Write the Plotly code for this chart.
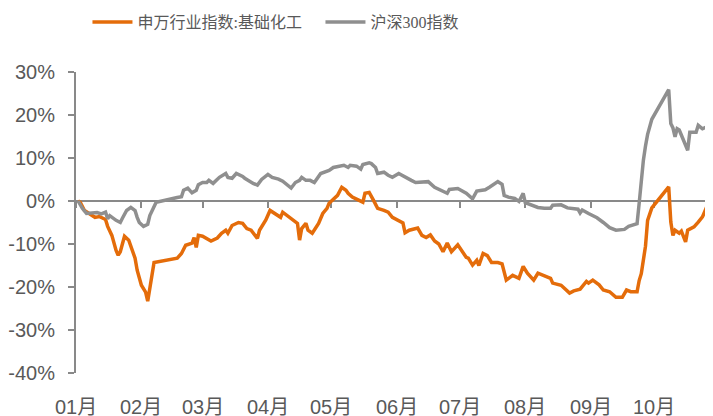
import plotly.graph_objects as go

# ---------------- data ----------------
sw_dates = ["2024-01-02","2024-01-03","2024-01-05","2024-01-08","2024-01-10","2024-01-12","2024-01-15","2024-01-16",
"2024-01-18","2024-01-20","2024-01-21","2024-01-22","2024-01-24","2024-01-26","2024-01-27","2024-01-29","2024-01-30",
"2024-02-01","2024-02-03","2024-02-04","2024-02-07","2024-02-08","2024-02-18","2024-02-20","2024-02-22","2024-02-25",
"2024-02-26","2024-02-27","2024-02-28","2024-03-01","2024-03-03","2024-03-05","2024-03-08","2024-03-10","2024-03-12",
"2024-03-13","2024-03-15","2024-03-18","2024-03-20","2024-03-22","2024-03-24","2024-03-27","2024-03-28","2024-03-31",
"2024-04-02","2024-04-04","2024-04-07","2024-04-08","2024-04-11","2024-04-13","2024-04-15","2024-04-16","2024-04-17",
"2024-04-19","2024-04-20","2024-04-22","2024-04-25","2024-04-27","2024-04-29","2024-04-30","2024-05-04","2024-05-06",
"2024-05-08","2024-05-09","2024-05-11","2024-05-14","2024-05-16","2024-05-17","2024-05-19","2024-05-21","2024-05-23",
"2024-05-26","2024-05-28","2024-05-30","2024-06-04","2024-06-05","2024-06-07","2024-06-11","2024-06-13","2024-06-15",
"2024-06-17","2024-06-19","2024-06-21","2024-06-23","2024-06-25","2024-06-27","2024-06-30","2024-07-04","2024-07-05",
"2024-07-07","2024-07-09","2024-07-10","2024-07-12","2024-07-14","2024-07-16","2024-07-19","2024-07-21","2024-07-23",
"2024-07-26","2024-07-29","2024-07-31","2024-08-02","2024-08-05","2024-08-07","2024-08-10","2024-08-13","2024-08-14",
"2024-08-18","2024-08-22","2024-08-24","2024-08-27","2024-08-30","2024-08-31","2024-09-02","2024-09-05","2024-09-07",
"2024-09-10","2024-09-13","2024-09-16","2024-09-18","2024-09-20","2024-09-23","2024-09-24","2024-09-25","2024-09-27",
"2024-09-28","2024-09-30","2024-10-08","2024-10-09","2024-10-10","2024-10-11","2024-10-13","2024-10-14","2024-10-16",
"2024-10-17","2024-10-20","2024-10-22","2024-10-24","2024-10-26","2024-10-28","2024-10-29"]
sw_values = [0.0,-0.3,-2.2,-3.3,-3.8,-3.6,-4.3,-5.9,
-8.0,-11.5,-12.6,-11.8,-8.2,-9.1,-10.5,-13.3,-16.1,
-19.6,-21.2,-23.3,-14.3,-14.2,-13.3,-12.2,-10.3,-9.8,
-8.5,-10.8,-8.0,-8.2,-8.8,-9.3,-8.6,-7.5,-6.8,
-7.5,-5.7,-5.0,-5.2,-6.4,-6.8,-8.7,-6.8,-4.4,
-2.2,-2.9,-3.8,-2.6,-3.8,-4.5,-5.2,-9.1,-6.4,
-5.2,-6.8,-7.5,-5.2,-2.9,-1.7,-0.5,1.3,3.2,
2.5,1.8,0.9,0.2,-0.3,1.8,2.0,0.2,-1.7,
-2.2,-2.6,-3.8,-5.1,-7.4,-6.8,-6.3,-8.0,-8.5,
-7.9,-9.3,-10.0,-11.8,-9.8,-11.8,-10.2,-13.1,-13.3,
-14.9,-13.8,-15.0,-12.2,-12.7,-14.3,-14.3,-14.6,-18.4,
-17.3,-18.0,-15.2,-16.8,-18.4,-16.8,-17.5,-18.0,-19.1,
-19.6,-21.4,-20.9,-20.5,-18.7,-19.1,-18.4,-19.5,-20.7,
-21.1,-22.4,-22.4,-20.7,-21.1,-21.1,-18.5,-16.9,-10.5,
-4.5,-1.6,3.3,-4.9,-8.0,-6.8,-7.5,-7.0,-9.5,
-6.8,-6.0,-4.9,-3.7,-1.4,-0.6,-1.7]

hs_dates = ["2024-01-02","2024-01-04","2024-01-06","2024-01-09","2024-01-11","2024-01-13","2024-01-15","2024-01-16",
"2024-01-17","2024-01-20","2024-01-22","2024-01-23","2024-01-25","2024-01-27","2024-01-29","2024-01-30","2024-01-31",
"2024-02-02","2024-02-04","2024-02-05","2024-02-06","2024-02-07","2024-02-08","2024-02-18","2024-02-20","2024-02-21",
"2024-02-23","2024-02-25","2024-02-27","2024-02-28","2024-03-01","2024-03-03","2024-03-04","2024-03-06","2024-03-09",
"2024-03-12","2024-03-13","2024-03-15","2024-03-17","2024-03-20","2024-03-21","2024-03-25","2024-03-27","2024-03-29",
"2024-04-01","2024-04-03","2024-04-06","2024-04-08","2024-04-11","2024-04-12","2024-04-14","2024-04-16","2024-04-17",
"2024-04-19","2024-04-21","2024-04-23","2024-04-26","2024-04-28","2024-04-30","2024-05-02","2024-05-04","2024-05-07",
"2024-05-09","2024-05-10","2024-05-13","2024-05-15","2024-05-16","2024-05-19","2024-05-20","2024-05-22","2024-05-23",
"2024-05-26","2024-05-28","2024-05-30","2024-06-02","2024-06-05","2024-06-08","2024-06-10","2024-06-13","2024-06-16",
"2024-06-19","2024-06-22","2024-06-25","2024-06-26","2024-06-30","2024-07-04","2024-07-07","2024-07-09","2024-07-13",
"2024-07-15","2024-07-19","2024-07-21","2024-07-22","2024-07-24","2024-07-27","2024-07-29","2024-07-31","2024-08-01",
"2024-08-04","2024-08-07","2024-08-10","2024-08-13","2024-08-14","2024-08-18","2024-08-21","2024-08-23","2024-08-26",
"2024-08-27","2024-08-28","2024-08-31","2024-09-04","2024-09-07","2024-09-10","2024-09-13","2024-09-17","2024-09-19",
"2024-09-22","2024-09-23","2024-09-24","2024-09-25","2024-09-26","2024-09-27","2024-09-28","2024-09-30","2024-10-08",
"2024-10-09","2024-10-10","2024-10-11","2024-10-12","2024-10-13","2024-10-15","2024-10-17","2024-10-18","2024-10-21",
"2024-10-22","2024-10-24","2024-10-26","2024-10-29"]
hs_values = [0.0,-1.7,-2.9,-2.9,-2.7,-3.0,-2.6,-4.1,
-3.4,-4.5,-5.0,-4.0,-2.2,-1.5,-2.2,-3.8,-5.0,
-5.9,-5.4,-3.4,-2.2,-1.0,-0.3,0.8,1.0,2.5,
3.0,1.9,2.5,3.8,4.3,4.3,4.8,4.1,5.5,
6.4,5.5,5.3,6.4,5.7,5.3,4.1,3.7,5.0,
6.2,5.5,5.1,4.6,3.2,3.0,4.3,4.8,5.5,
4.8,4.8,4.3,6.4,6.7,7.1,7.8,8.0,8.3,
7.8,8.3,8.1,7.4,8.5,8.9,8.7,7.8,6.4,
6.7,6.0,5.5,6.4,5.5,4.8,4.3,4.5,4.5,
3.2,2.5,1.8,2.7,2.9,1.8,0.5,2.3,2.6,
3.2,4.5,3.9,1.3,0.9,0.6,-0.1,1.8,-0.4,
-1.0,-1.5,-1.7,-1.7,-1.0,-0.9,-1.6,-1.8,-1.9,
-2.8,-2.1,-2.9,-3.9,-5.0,-6.2,-6.8,-6.6,-5.9,
-5.3,-5.3,-0.5,5.5,9.5,12.8,15.5,19.0,25.9,
18.0,17.0,14.9,16.8,16.5,14.1,11.8,16.0,16.0,
17.6,16.8,17.2,14.9]

month_ticks = ["2024-01-01","2024-02-01","2024-03-01","2024-04-01","2024-05-01",
               "2024-06-01","2024-07-01","2024-08-01","2024-09-01","2024-10-01"]
month_labels = ["01月","02月","03月","04月","05月","06月","07月","08月","09月","10月"]
y_ticks = [-40, -30, -20, -10, 0, 10, 20, 30]
y_labels = ["-40%", "-30%", "-20%", "-10%", "0%", "10%", "20%", "30%"]
y_range = [-40, 30]

series_names = ["申万行业指数:基础化工", "沪深300指数"]
series_colors = ["#E46C0A", "#8F8F8F"]

AXIS_COLOR = "#898989"
TEXT_COLOR = "#595959"
FONT = "Arial, Liberation Sans, Noto Sans CJK SC, sans-serif"

fig = go.Figure()
fig.add_trace(go.Scatter(x=sw_dates, y=sw_values, mode="lines", name=series_names[0],
                         line=dict(color=series_colors[0], width=3.5)))
fig.add_trace(go.Scatter(x=hs_dates, y=hs_values, mode="lines", name=series_names[1],
                         line=dict(color=series_colors[1], width=3.5)))

# month labels sit at the bottom of the plot (Excel "low" label position)
for t, lab in zip(month_ticks, month_labels):
    fig.add_annotation(x=t, xref="x", y=0, yref="paper", text=lab, showarrow=False,
                       xanchor="center", yanchor="top", yshift=-21,
                       font=dict(size=20, color=TEXT_COLOR, family=FONT))

zero_pos = (0 - y_range[0]) / (y_range[1] - y_range[0])

# the page body adds an 8px offset, so the figure is 8px smaller
fig.update_layout(
    width=705, height=408,
    margin=dict(l=68, r=0, t=64, b=43),
    paper_bgcolor="white", plot_bgcolor="white",
    font=dict(family=FONT, color=TEXT_COLOR),
    showlegend=True,
    legend=dict(orientation="h", xref="paper", x=0.018, xanchor="left",
                yref="container", y=1 - 14/408, yanchor="middle",
                font=dict(size=16, family="Liberation Serif, Noto Sans CJK SC, serif", color=TEXT_COLOR),
                itemwidth=40, entrywidth=178, bgcolor="rgba(0,0,0,0)"),
    xaxis=dict(type="date", range=["2024-01-01", "2024-10-29"],
               anchor="free", position=zero_pos,
               tickmode="array", tickvals=month_ticks, showticklabels=False,
               showline=True, linecolor=AXIS_COLOR, linewidth=2,
               ticks="outside", ticklen=6, tickwidth=2, tickcolor=AXIS_COLOR,
               showgrid=False, zeroline=False, layer="below traces"),
    yaxis=dict(range=y_range, tickmode="array", tickvals=y_ticks, ticktext=y_labels,
               showline=True, linecolor=AXIS_COLOR, linewidth=2, ticks="outside",
               ticklen=6, tickwidth=2, tickcolor=AXIS_COLOR, showgrid=False,
               zeroline=False, ticklabelstandoff=9,
               tickfont=dict(size=20, color=TEXT_COLOR)),
)

fig.write_html("out.html")
